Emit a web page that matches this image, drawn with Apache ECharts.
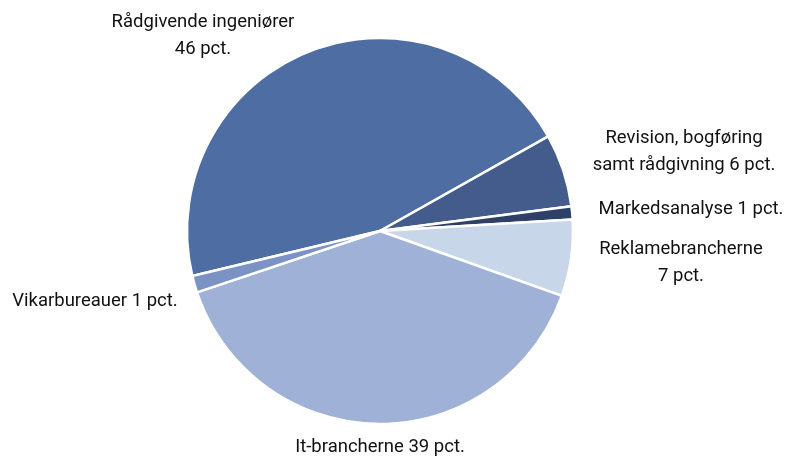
<!DOCTYPE html>
<html>
<head>
<meta charset="utf-8">
<script src="https://cdn.jsdelivr.net/npm/echarts@6/dist/echarts.min.js"></script>
<style>
  html, body { margin: 0; padding: 0; background: #fff; }
  #chart { width: 788px; height: 461px; }
</style>
</head>
<body>
<div id="chart"></div>
<script>
// sektorer, med uret fra venstre
const categories = ['Rådgivende ingeniører', 'Revision, bogføring samt rådgivning', 'Markedsanalyse', 'Reklamebrancherne', 'It-brancherne', 'Vikarbureauer'];
const shares = [45.6, 6.1, 1.1, 6.4, 39.4, 1.4];
const labels = [
  'Rådgivende ingeniører\n46 pct.',
  'Revision, bogføring\nsamt rådgivning 6 pct.',
  'Markedsanalyse 1 pct.',
  'Reklamebrancherne\n7 pct.',
  'It-brancherne 39 pct.',
  'Vikarbureauer 1 pct.'
];
const colors = ['#4e6da3', '#435c8c', '#2f4068', '#c8d6ea', '#9fb1d6', '#7a92c4'];
// label centre positions
const labelPos = [[203, 36], [684, 152], [691, 209], [681, 263], [380, 447], [95, 301]];

const myChart = echarts.init(document.getElementById('chart'));
myChart.setOption({
  animation: false,
  color: colors,
  series: [{
    type: 'pie',
    center: [380, 231],
    radius: [0, 193],
    startAngle: 193.5,
    clockwise: true,
    avoidLabelOverlap: false,
    itemStyle: { borderColor: '#fff', borderWidth: 2.5 },
    label: {
      show: true,
      position: 'outside',
      formatter: p => labels[p.dataIndex],
      fontFamily: 'Roboto, sans-serif',
      fontSize: 18.5,
      lineHeight: 27,
      color: '#111',
      align: 'center'
    },
    labelLine: { show: false },
    labelLayout: p => ({
      x: labelPos[p.dataIndex][0],
      y: labelPos[p.dataIndex][1],
      align: 'center',
      verticalAlign: 'middle'
    }),
    emphasis: { disabled: true },
    data: categories.map((c, i) => ({ name: c, value: shares[i] }))
  }]
});
</script>
</body>
</html>
